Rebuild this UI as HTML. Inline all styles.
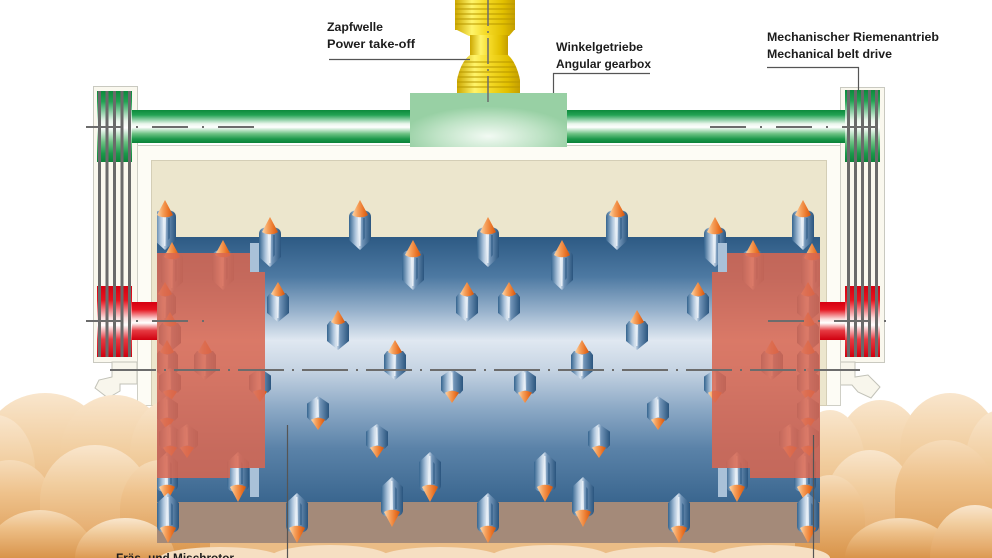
<!DOCTYPE html>
<html><head><meta charset="utf-8"><style>html,body{margin:0;padding:0;background:#fff;width:992px;height:558px;overflow:hidden;}svg{display:block;overflow:hidden;}</style></head>
<body>
<svg width="992" height="558" viewBox="0 0 992 558" xmlns="http://www.w3.org/2000/svg" xmlns:xlink="http://www.w3.org/1999/xlink">
<defs>
  <linearGradient id="gGreen" x1="0" y1="0" x2="0" y2="1">
    <stop offset="0" stop-color="#0c8a3c"/><stop offset="0.15" stop-color="#22a253"/>
    <stop offset="0.42" stop-color="#eaf6ec"/><stop offset="0.52" stop-color="#ffffff"/>
    <stop offset="0.72" stop-color="#6cc283"/><stop offset="0.88" stop-color="#1b984a"/>
    <stop offset="1" stop-color="#0b8239"/>
  </linearGradient>
  <linearGradient id="gRed" x1="0" y1="0" x2="0" y2="1">
    <stop offset="0" stop-color="#d60010"/><stop offset="0.2" stop-color="#e6141f"/>
    <stop offset="0.45" stop-color="#fbdcdc"/><stop offset="0.55" stop-color="#ffffff"/>
    <stop offset="0.75" stop-color="#e63a42"/><stop offset="1" stop-color="#d0000f"/>
  </linearGradient>
  <linearGradient id="gYel" x1="0" y1="0" x2="1" y2="0">
    <stop offset="0" stop-color="#cda800"/><stop offset="0.28" stop-color="#fff46a"/>
    <stop offset="0.5" stop-color="#f6dc2a"/><stop offset="0.8" stop-color="#e2c000"/>
    <stop offset="1" stop-color="#c49e00"/>
  </linearGradient>
  <radialGradient id="gGear" cx="0.5" cy="0.8" r="0.55">
    <stop offset="0" stop-color="#f2faf3"/><stop offset="0.6" stop-color="#bfe3c6"/>
    <stop offset="1" stop-color="#98d0a4"/>
  </radialGradient>
  <linearGradient id="gDrum" x1="0" y1="237" x2="0" y2="502" gradientUnits="userSpaceOnUse">
    <stop offset="0" stop-color="#2d5a84"/><stop offset="0.15" stop-color="#4d79a2"/>
    <stop offset="0.28" stop-color="#98b2cc"/><stop offset="0.39" stop-color="#e0e8f1"/>
    <stop offset="0.5" stop-color="#c6d4e3"/><stop offset="0.65" stop-color="#8ba8c5"/>
    <stop offset="0.8" stop-color="#5a82a8"/><stop offset="1" stop-color="#3a668f"/>
  </linearGradient>
  <linearGradient id="gBody" x1="0" y1="0" x2="1" y2="0">
    <stop offset="0" stop-color="#34648f"/><stop offset="0.28" stop-color="#a9c1d9"/>
    <stop offset="0.42" stop-color="#dae5f0"/><stop offset="0.6" stop-color="#7093b7"/>
    <stop offset="1" stop-color="#2a557e"/>
  </linearGradient>
  <linearGradient id="gCone" x1="0" y1="0" x2="1" y2="0">
    <stop offset="0" stop-color="#fcd7ac"/><stop offset="0.35" stop-color="#f6a15c"/>
    <stop offset="0.7" stop-color="#ea762a"/><stop offset="1" stop-color="#d2560e"/>
  </linearGradient>
  <linearGradient id="gSand" x1="0" y1="0" x2="0" y2="1">
    <stop offset="0" stop-color="#f9e6cd"/><stop offset="0.35" stop-color="#f1cd9e"/>
    <stop offset="0.8" stop-color="#e5ab6c"/><stop offset="1" stop-color="#dc9a52"/>
  </linearGradient>
  <linearGradient id="gSand2" x1="0" y1="0" x2="0" y2="1">
    <stop offset="0" stop-color="#f6dcba"/><stop offset="0.35" stop-color="#eec18a"/>
    <stop offset="1" stop-color="#d9944a"/>
  </linearGradient>
  <g id="T">
    <path d="M-11,17 C-11,12 -7,10 0,10 C7,10 11,12 11,17 L11,40 L0,50 L-11,40 Z" fill="url(#gBody)"/>
    <path d="M-2,16 L1,16 L0.5,46 L-1,46 Z" fill="#eef4fa" opacity="0.85"/>
    <path d="M3,18 L5,18 L5,38 L3,40 Z" fill="#2e5b86" opacity="0.6"/>
    <path d="M0,0 L-8,15 C-4,18 4,18 8,15 Z" fill="url(#gCone)"/>
  </g>
  <g id="S">
    <path d="M-11,15 L-8,11 L8,11 L11,15 L11,31 L0,40 L-11,31 Z" fill="url(#gBody)"/>
    <path d="M-1.5,15 L1,15 L0.5,36 L-1,36 Z" fill="#eef4fa" opacity="0.85"/>
    <path d="M0,0 L-7,12 C-3,15 3,15 7,12 Z" fill="url(#gCone)"/>
  </g>
  <clipPath id="drumClip"><rect x="157" y="150" width="663" height="400"/></clipPath>
  <clipPath id="bulge"><path d="M470,55 L508,55 C514,60 518,70 520,80 L520,95 L457,95 L457,80 C459,70 463,60 470,55 Z"/></clipPath>
  <clipPath id="frame"><rect x="0" y="0" width="992" height="558"/></clipPath>
</defs>

<rect width="992" height="558" fill="#ffffff"/>

<!-- belt frames -->
<rect x="93.5" y="86.5" width="44" height="276" fill="#faf8ee" stroke="#c9c9c0"/>
<rect x="840.5" y="87.5" width="44" height="275" fill="#faf8ee" stroke="#c9c9c0"/>
<path d="M112,362 L112,377 L99,380 L95,388 L108,398 L120,391 L120,384 L137,384 L137,362 Z" fill="#f8f6ec" stroke="#c2c2b8"/>
<path d="M855,362 L855,377 L868,375 L880,387 L871,398 L858,392 L852,385 L840,385 L840,362 Z" fill="#f8f6ec" stroke="#c2c2b8"/>

<!-- housing -->
<rect x="137.5" y="145.5" width="703" height="260" fill="#fdfcf5" stroke="#cfcfc6"/>
<rect x="151.5" y="160.5" width="675" height="245" fill="#ece6cd" stroke="#d4ceb6"/>

<!-- green shafts -->
<rect x="132" y="110" width="278" height="33" fill="url(#gGreen)"/>
<rect x="567" y="110" width="278" height="33" fill="url(#gGreen)"/>

<!-- yellow PTO -->
<rect x="455" y="0" width="60" height="30" fill="url(#gYel)"/>
<g stroke="#b89800" stroke-width="1.2" opacity="0.8">
  <line x1="455" y1="4" x2="515" y2="4"/><line x1="455" y1="9" x2="515" y2="9"/>
  <line x1="455" y1="14" x2="515" y2="14"/><line x1="455" y1="19" x2="515" y2="19"/>
  <line x1="455" y1="24" x2="515" y2="24"/>
</g>
<path d="M455,29 L515,29 L509,36 L469,36 Z" fill="url(#gYel)"/>
<rect x="470" y="35" width="38" height="22" fill="url(#gYel)"/>
<path d="M470,55 L508,55 C514,60 518,70 520,80 L520,95 L457,95 L457,80 C459,70 463,60 470,55 Z" fill="url(#gYel)"/>
<g clip-path="url(#bulge)" stroke="#b89800" stroke-width="1.2" opacity="0.8">
  <line x1="455" y1="62" x2="522" y2="62"/><line x1="455" y1="67" x2="522" y2="67"/>
  <line x1="455" y1="72" x2="522" y2="72"/><line x1="455" y1="77" x2="522" y2="77"/>
  <line x1="455" y1="82" x2="522" y2="82"/><line x1="455" y1="87" x2="522" y2="87"/>
</g>

<!-- gearbox -->
<rect x="410" y="93" width="157" height="54" fill="url(#gGear)"/>

<!-- belt blocks -->
<rect x="97" y="91" width="35" height="71" fill="url(#gGreen)"/>
<rect x="845" y="90" width="35" height="72" fill="url(#gGreen)"/>
<rect x="97" y="286" width="35" height="71" fill="url(#gRed)"/>
<rect x="845" y="286" width="35" height="71" fill="url(#gRed)"/>
<g fill="#6a6a6a">
  <rect x="98" y="91" width="3" height="266"/><rect x="105.5" y="91" width="3" height="266"/>
  <rect x="113" y="91" width="3" height="266"/><rect x="120.5" y="91" width="3" height="266"/>
  <rect x="128" y="91" width="3" height="266"/>
  <rect x="847" y="90" width="3" height="267"/><rect x="854" y="90" width="3" height="267"/>
  <rect x="861" y="90" width="3" height="267"/><rect x="868" y="90" width="3" height="267"/>
  <rect x="875" y="90" width="3" height="267"/>
</g>

<!-- red shafts -->
<rect x="132" y="302" width="26" height="38" fill="url(#gRed)"/>
<rect x="819" y="302" width="26" height="38" fill="url(#gRed)"/>

<!-- sand: domes ending at 558 -->
<g>
  <rect x="0" y="440" width="992" height="118" fill="#ebbd86"/>
  <!-- left back row -->
  <path d="M-17,558 L-17,450 A62,57 0 0 1 107,450 L107,558 Z" fill="url(#gSand)"/>
  <path d="M60,558 L60,455 A55,60 0 0 1 170,455 L170,558 Z" fill="url(#gSand)"/>
  <path d="M130,558 L130,455 A40,55 0 0 1 210,455 L210,558 Z" fill="url(#gSand)"/>
  <path d="M-45,558 L-45,470 A40,55 0 0 1 35,470 L35,558 Z" fill="url(#gSand)"/>
  <!-- left mid row -->
  <path d="M-35,558 L-35,510 A45,50 0 0 1 55,510 L55,558 Z" fill="url(#gSand2)"/>
  <path d="M40,558 L40,500 A55,55 0 0 1 150,500 L150,558 Z" fill="url(#gSand)"/>
  <path d="M120,558 L120,510 A40,50 0 0 1 200,510 L200,558 Z" fill="url(#gSand2)"/>
  <!-- left front row -->
  <path d="M-15,558 A55,48 0 0 1 95,558 Z" fill="url(#gSand2)"/>
  <path d="M75,558 A50,40 0 0 1 175,558 Z" fill="url(#gSand)"/>

  <!-- right back row -->
  <path d="M835,558 L835,458 A45,58 0 0 1 925,458 L925,558 Z" fill="url(#gSand)"/>
  <path d="M900,558 L900,450 A50,57 0 0 1 1000,450 L1000,558 Z" fill="url(#gSand)"/>
  <path d="M795,558 L795,465 A35,55 0 0 1 865,465 L865,558 Z" fill="url(#gSand)"/>
  <path d="M965,558 L965,465 A35,55 0 0 1 1035,465 L1035,558 Z" fill="url(#gSand)"/>
  <!-- right mid row -->
  <path d="M825,558 L825,505 A45,55 0 0 1 915,505 L915,558 Z" fill="url(#gSand)"/>
  <path d="M895,558 L895,495 A50,55 0 0 1 995,495 L995,558 Z" fill="url(#gSand2)"/>
  <path d="M795,558 L795,520 A35,45 0 0 1 865,520 L865,558 Z" fill="url(#gSand2)"/>
  <!-- right front row -->
  <path d="M845,558 A55,40 0 0 1 955,558 Z" fill="url(#gSand2)"/>
  <path d="M930,558 A45,53 0 0 1 1020,558 Z" fill="url(#gSand)"/>

  <!-- under drum -->
  <path d="M160,558 A60,11 0 0 1 280,558 Z" fill="#f6dfc2"/>
  <path d="M270,558 A60,13 0 0 1 390,558 Z" fill="#f6dfc2"/>
  <path d="M380,558 A60,11 0 0 1 500,558 Z" fill="#f6dfc2"/>
  <path d="M490,558 A60,13 0 0 1 610,558 Z" fill="#f6dfc2"/>
  <path d="M600,558 A60,11 0 0 1 720,558 Z" fill="#f6dfc2"/>
  <path d="M710,558 A60,13 0 0 1 830,558 Z" fill="#f6dfc2"/>
</g>

<!-- drum -->
<rect x="157" y="237" width="663" height="265" fill="url(#gDrum)"/>
<rect x="157" y="502" width="663" height="41" fill="#a48a79"/>

<!-- teeth -->
<g clip-path="url(#drumClip)">
  <use xlink:href="#T" transform="translate(165,200)"/>
  <use xlink:href="#T" transform="translate(360,200)"/>
  <use xlink:href="#T" transform="translate(617,200)"/>
  <use xlink:href="#T" transform="translate(803,200)"/>
  <use xlink:href="#T" transform="translate(270,217)"/>
  <use xlink:href="#T" transform="translate(488,217)"/>
  <use xlink:href="#T" transform="translate(715,217)"/>
  <use xlink:href="#T" transform="translate(223,240)"/>
  <use xlink:href="#T" transform="translate(413,240)"/>
  <use xlink:href="#T" transform="translate(562,240)"/>
  <use xlink:href="#T" transform="translate(753,240)"/>
  <use xlink:href="#T" transform="translate(172,242)"/>
  <use xlink:href="#T" transform="translate(812,243)"/>

  <use xlink:href="#S" transform="translate(278,282)"/>
  <use xlink:href="#S" transform="translate(467,282)"/>
  <use xlink:href="#S" transform="translate(509,282)"/>
  <use xlink:href="#S" transform="translate(698,282)"/>
  <use xlink:href="#S" transform="translate(165,282)"/>
  <use xlink:href="#S" transform="translate(808,282)"/>
  <use xlink:href="#S" transform="translate(338,310)"/>
  <use xlink:href="#S" transform="translate(637,310)"/>
  <use xlink:href="#S" transform="translate(170,312)"/>
  <use xlink:href="#S" transform="translate(808,312)"/>
  <use xlink:href="#S" transform="translate(395,340)"/>
  <use xlink:href="#S" transform="translate(582,340)"/>
  <use xlink:href="#S" transform="translate(167,340)"/>
  <use xlink:href="#S" transform="translate(205,340)"/>
  <use xlink:href="#S" transform="translate(772,340)"/>
  <use xlink:href="#S" transform="translate(808,340)"/>

  <use xlink:href="#S" transform="translate(452,403) scale(1,-0.85)"/>
  <use xlink:href="#S" transform="translate(525,403) scale(1,-0.85)"/>
  <use xlink:href="#S" transform="translate(260,402) scale(1,-0.85)"/>
  <use xlink:href="#S" transform="translate(715,403) scale(1,-0.85)"/>
  <use xlink:href="#S" transform="translate(170,402) scale(1,-0.85)"/>
  <use xlink:href="#S" transform="translate(808,402) scale(1,-0.85)"/>
  <use xlink:href="#S" transform="translate(318,430) scale(1,-0.85)"/>
  <use xlink:href="#S" transform="translate(658,430) scale(1,-0.85)"/>
  <use xlink:href="#S" transform="translate(167,430) scale(1,-0.85)"/>
  <use xlink:href="#S" transform="translate(808,430) scale(1,-0.85)"/>
  <use xlink:href="#S" transform="translate(377,458) scale(1,-0.85)"/>
  <use xlink:href="#S" transform="translate(599,458) scale(1,-0.85)"/>
  <use xlink:href="#S" transform="translate(170,458) scale(1,-0.85)"/>
  <use xlink:href="#S" transform="translate(187,458) scale(1,-0.85)"/>
  <use xlink:href="#S" transform="translate(790,458) scale(1,-0.85)"/>
  <use xlink:href="#S" transform="translate(808,458) scale(1,-0.85)"/>

  <use xlink:href="#T" transform="translate(430,502) scale(1,-1)"/>
  <use xlink:href="#T" transform="translate(545,502) scale(1,-1)"/>
  <use xlink:href="#T" transform="translate(238,502) scale(1,-1)"/>
  <use xlink:href="#T" transform="translate(737,502) scale(1,-1)"/>
  <use xlink:href="#T" transform="translate(167,502) scale(1,-1)"/>
  <use xlink:href="#T" transform="translate(805,502) scale(1,-1)"/>
  <use xlink:href="#T" transform="translate(392,527) scale(1,-1)"/>
  <use xlink:href="#T" transform="translate(583,527) scale(1,-1)"/>
  <use xlink:href="#T" transform="translate(297,543) scale(1,-1)"/>
  <use xlink:href="#T" transform="translate(488,543) scale(1,-1)"/>
  <use xlink:href="#T" transform="translate(679,543) scale(1,-1)"/>
  <use xlink:href="#T" transform="translate(168,543) scale(1,-1)"/>
  <use xlink:href="#T" transform="translate(808,543) scale(1,-1)"/>
</g>

<!-- red side blocks -->
<path d="M157,253 L250,253 L250,272 L265,272 L265,468 L230,468 L230,478 L157,478 Z" fill="#d96750" opacity="0.86"/>
<path d="M712,272 L727,272 L727,253 L820,253 L820,478 L750,478 L750,468 L712,468 Z" fill="#d96750" opacity="0.86"/>
<g fill="#a9c1d8">
  <rect x="250" y="243" width="9" height="29"/><rect x="250" y="468" width="9" height="29"/>
  <rect x="718" y="243" width="9" height="29"/><rect x="718" y="468" width="9" height="29"/>
</g>

<!-- centre lines -->
<g stroke="#6c6c6c" stroke-width="2" fill="none">
  <line x1="488" y1="0" x2="488" y2="103" stroke-width="1.5" stroke-dasharray="26 5 2 5"/>
  <line x1="86" y1="127" x2="265" y2="127" stroke-dasharray="36 14 2 14"/>
  <line x1="710" y1="127" x2="890" y2="127" stroke-dasharray="36 14 2 14"/>
  <line x1="86" y1="321" x2="207" y2="321" stroke-dasharray="36 14 2 14"/>
  <line x1="768" y1="321" x2="890" y2="321" stroke-dasharray="36 14 2 14"/>
  <line x1="110" y1="370" x2="863" y2="370" stroke-dasharray="46 8 2 8"/>
</g>

<!-- leader lines -->
<g stroke="#555" stroke-width="1.2" fill="none">
  <line x1="329" y1="59.5" x2="470" y2="59.5"/>
  <polyline points="650,73.5 553.5,73.5 553.5,93"/>
  <polyline points="767,67.5 858.5,67.5 858.5,90"/>
  <line x1="287.5" y1="425" x2="287.5" y2="558"/>
  <line x1="813.5" y1="435" x2="813.5" y2="558"/>
</g>

<!-- labels -->
<g font-family="Liberation Sans, sans-serif" font-weight="bold" font-size="12" fill="#1c1c1c">
  <text x="327" y="31" textLength="56" lengthAdjust="spacingAndGlyphs">Zapfwelle</text>
  <text x="327" y="48" textLength="88" lengthAdjust="spacingAndGlyphs">Power take-off</text>
  <text x="556" y="51" textLength="87" lengthAdjust="spacingAndGlyphs">Winkelgetriebe</text>
  <text x="556" y="68" textLength="95" lengthAdjust="spacingAndGlyphs">Angular gearbox</text>
  <text x="767" y="41" textLength="172" lengthAdjust="spacingAndGlyphs">Mechanischer Riemenantrieb</text>
  <text x="767" y="58" textLength="125" lengthAdjust="spacingAndGlyphs">Mechanical belt drive</text>
</g>
<g clip-path="url(#frame)">
  <text x="116" y="562" font-family="Liberation Sans, sans-serif" font-weight="bold" font-size="12" fill="#1c1c1c" textLength="118" lengthAdjust="spacingAndGlyphs">Fräs- und Mischrotor</text>
</g>
</svg>
</body></html>
